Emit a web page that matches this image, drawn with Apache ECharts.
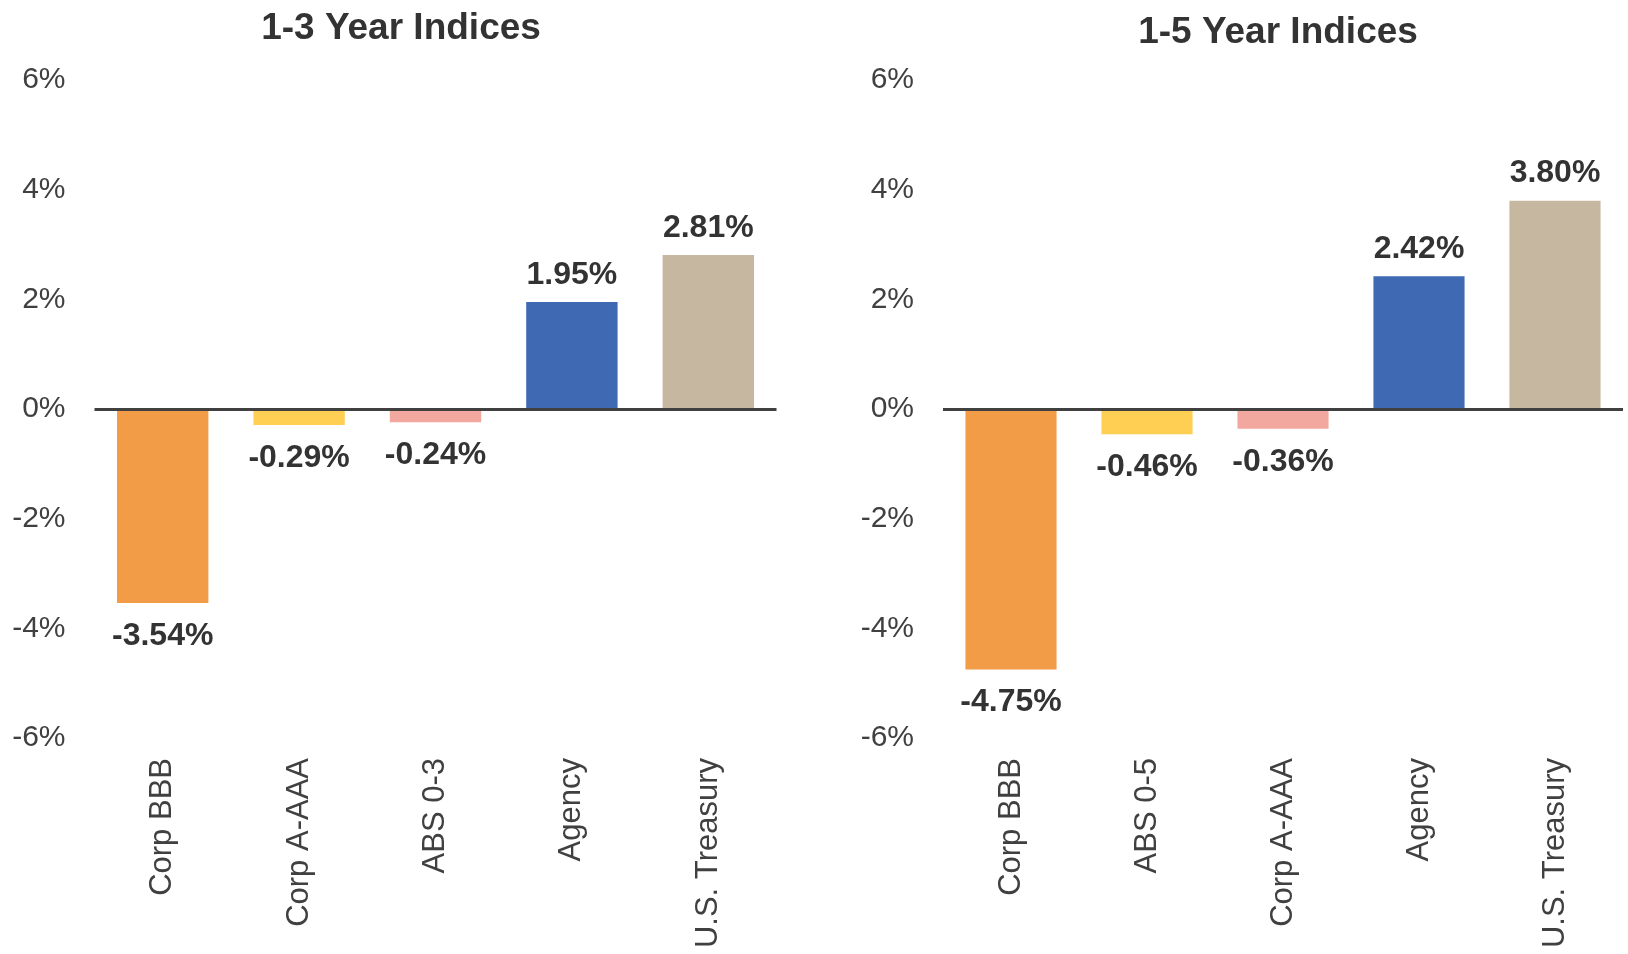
<!DOCTYPE html>
<html>
<head>
<meta charset="utf-8">
<script src="https://cdn.jsdelivr.net/npm/echarts@6/dist/echarts.min.js"></script>
<style>
  html, body { margin: 0; padding: 0; background: #fff; }
  #main { width: 1628px; height: 954px; }
</style>
</head>
<body>
<div id="main"></div>
<script>
  // data
  const leftTitle = '1-3 Year Indices'
  const leftCategories = ['Corp BBB', 'Corp A-AAA', 'ABS 0-3', 'Agency', 'U.S. Treasury']
  const leftValues = [-3.54, -0.29, -0.24, 1.95, 2.81]

  const rightTitle = '1-5 Year Indices'
  const rightCategories = ['Corp BBB', 'ABS 0-5', 'Corp A-AAA', 'Agency', 'U.S. Treasury']
  const rightValues = [-4.75, -0.46, -0.36, 2.42, 3.80]

  const barColors = ['#F39C48', '#FECF53', '#F2A89E', '#3F69B3', '#C6B7A1']
  const yMin = -6
  const yMax = 6
  const yStep = 2

  const font = '"Liberation Sans", Arial, sans-serif'

  function barData(values) {
    return values.map((v, i) => ({
      value: v,
      itemStyle: { color: barColors[i] },
      // labels sit outside the bar end: above for gains, below for losses
      label: v >= 0 ? { position: 'top', distance: 11 } : { position: 'bottom', distance: 17 }
    }))
  }

  function xAxisFor(idx, cats) {
    return {
      type: 'category',
      gridIndex: idx,
      data: cats,
      axisLine: { show: false, onZero: false },
      axisTick: { show: false },
      axisLabel: { rotate: 90, margin: 20, fontSize: 31, color: '#404040', fontFamily: font }
    }
  }

  function yAxisFor(idx) {
    return {
      type: 'value',
      gridIndex: idx,
      min: yMin,
      max: yMax,
      interval: yStep,
      splitLine: { show: false },
      axisLine: { show: false },
      axisTick: { show: false },
      axisLabel: {
        formatter: '{value}%', margin: 29, padding: [4, 0, 0, 0],
        fontSize: 30, color: '#404040', fontFamily: font
      }
    }
  }

  function seriesFor(idx, values) {
    return {
      type: 'bar',
      xAxisIndex: idx,
      yAxisIndex: idx,
      barWidth: '67%',
      data: barData(values),
      label: {
        show: true,
        fontSize: 32,
        fontWeight: 'bold',
        color: '#333',
        fontFamily: font,
        formatter: p => p.value.toFixed(2) + '%'
      },
      // zero line drawn across the grid, category labels stay at the bottom
      markLine: {
        silent: true,
        symbol: 'none',
        label: { show: false },
        lineStyle: { color: '#404040', width: 3, type: 'solid' },
        data: [{ yAxis: 0 }]
      },
      animation: false
    }
  }

  let myChart = echarts.init(document.getElementById('main'))
  let option = {
    backgroundColor: '#fff',
    animation: false,
    title: [
      { text: leftTitle, left: 396, top: 5, textAlign: 'center',
        textStyle: { fontSize: 37, fontWeight: 'bold', color: '#333', fontFamily: font } },
      { text: rightTitle, left: 1273, top: 9, textAlign: 'center',
        textStyle: { fontSize: 37, fontWeight: 'bold', color: '#333', fontFamily: font } }
    ],
    grid: [
      { left: 94.5, top: 80, width: 682, height: 658 },
      { left: 943, top: 80, width: 680, height: 658 }
    ],
    xAxis: [xAxisFor(0, leftCategories), xAxisFor(1, rightCategories)],
    yAxis: [yAxisFor(0), yAxisFor(1)],
    series: [seriesFor(0, leftValues), seriesFor(1, rightValues)]
  }
  myChart.setOption(option)
</script>
</body>
</html>
